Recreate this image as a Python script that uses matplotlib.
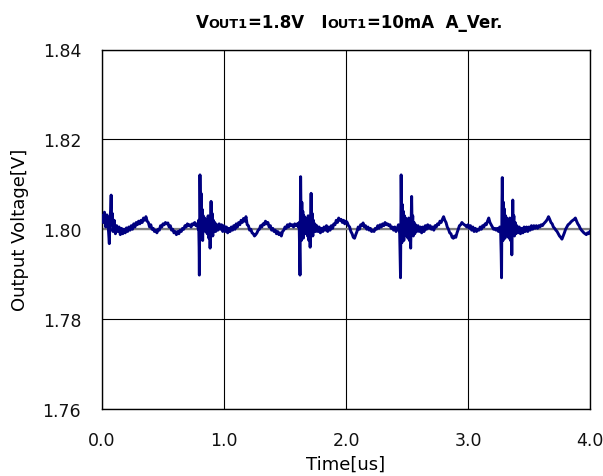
import matplotlib
matplotlib.use("Agg")
import matplotlib.pyplot as plt

plt.rcParams["font.family"] = ["DejaVu Sans"]

# quiet stretch + first switching burst (t in us, v in V)
t_seg1 = [0.00, 0.01, 0.02, 0.03, 0.04, 0.05, 0.06, 0.065, 0.07, 0.075, 0.08, 0.085, 0.09,
          0.10, 0.11, 0.12, 0.13, 0.14, 0.15, 0.16, 0.17, 0.18, 0.19, 0.20, 0.21, 0.22, 0.23,
          0.24, 0.25, 0.26, 0.27, 0.28, 0.29, 0.30, 0.31, 0.32, 0.33, 0.34, 0.35, 0.36, 0.37,
          0.38, 0.39, 0.40, 0.41, 0.42, 0.43, 0.44, 0.45, 0.46, 0.47, 0.48, 0.49, 0.50, 0.51,
          0.52, 0.53, 0.54, 0.55, 0.56, 0.57, 0.58, 0.59, 0.60, 0.61, 0.62, 0.63, 0.64, 0.65,
          0.66, 0.67, 0.68, 0.69, 0.70, 0.71, 0.72, 0.73, 0.74, 0.75, 0.76, 0.77, 0.78, 0.79,
          0.792, 0.796, 0.798, 0.801, 0.803, 0.806, 0.809, 0.812, 0.816, 0.820, 0.825, 0.830,
          0.836, 0.842, 0.848, 0.855, 0.862, 0.870, 0.876, 0.882, 0.886, 0.890, 0.894, 0.898,
          0.903, 0.908, 0.913, 0.918, 0.925, 0.932, 0.94, 0.95, 0.96, 0.97, 0.98, 0.99, 1.00]
v_seg1 = [1.8030, 1.8015, 1.8038, 1.8005, 1.8032, 1.8010, 1.7968, 1.8020, 1.8040, 1.8076, 1.8010,
          1.8035, 1.7995, 1.8020, 1.7990, 1.8008, 1.7995, 1.8005, 1.7988, 1.8002, 1.7990, 1.8000,
          1.7992, 1.8003, 1.7995, 1.8005, 1.7998, 1.8008, 1.8000, 1.8012, 1.8005, 1.8015, 1.8010,
          1.8018, 1.8012, 1.8020, 1.8015, 1.8025, 1.8020, 1.8028, 1.8018, 1.8015, 1.8005, 1.8010,
          1.8000, 1.8002, 1.7995, 1.7998, 1.7992, 1.8000, 1.7998, 1.8008, 1.8005, 1.8012, 1.8010,
          1.8015, 1.8012, 1.8014, 1.8005, 1.8008, 1.7998, 1.8000, 1.7992, 1.7995, 1.7988, 1.7995,
          1.7990, 1.7998, 1.7995, 1.8002, 1.8000, 1.8008, 1.8005, 1.8012, 1.8008, 1.8010, 1.8005,
          1.8012, 1.8010, 1.8015, 1.8008, 1.8012, 1.8000,
          1.8020, 1.7960, 1.7898, 1.8040, 1.8121, 1.8060, 1.7985, 1.8080, 1.7990, 1.8045, 1.7975,
          1.8030, 1.8000, 1.8025, 1.7995, 1.8020, 1.7990, 1.8030, 1.7980, 1.8020, 1.7958, 1.8010,
          1.8062, 1.8000, 1.8035, 1.7985, 1.8020, 1.7995, 1.8015, 1.7995, 1.8010, 1.7998, 1.8012,
          1.8000, 1.8010, 1.7995, 1.8008]

# second burst
t_seg2 = [1.01, 1.02, 1.03, 1.04, 1.05, 1.06, 1.07, 1.08, 1.09, 1.10, 1.11, 1.12, 1.13, 1.14,
          1.15, 1.16, 1.17, 1.18, 1.19, 1.20, 1.21, 1.22, 1.23, 1.24, 1.25, 1.26, 1.27, 1.28,
          1.29, 1.30, 1.31, 1.32, 1.33, 1.34, 1.35, 1.36, 1.37, 1.38, 1.39, 1.40, 1.41, 1.42,
          1.43, 1.44, 1.45, 1.46, 1.47, 1.48, 1.49, 1.50, 1.51, 1.52, 1.53, 1.54, 1.55, 1.56,
          1.57, 1.58, 1.59, 1.60, 1.61,
          1.616, 1.620, 1.623, 1.626, 1.628, 1.631, 1.634, 1.638, 1.642, 1.646, 1.650, 1.655,
          1.660, 1.666, 1.672, 1.678, 1.684, 1.690, 1.696, 1.702, 1.706, 1.710, 1.714, 1.718,
          1.723, 1.728, 1.733, 1.738, 1.745, 1.752, 1.76, 1.77, 1.78, 1.79, 1.80, 1.81, 1.82,
          1.83, 1.84, 1.85, 1.86, 1.87, 1.88, 1.89, 1.90, 1.91, 1.92, 1.93, 1.94, 1.95, 1.96,
          1.97, 1.98, 1.99, 2.00]
v_seg2 = [1.7995, 1.8005, 1.7992, 1.8002, 1.7995, 1.8005, 1.7998, 1.8008, 1.8000, 1.8012, 1.8005,
          1.8015, 1.8010, 1.8020, 1.8015, 1.8024, 1.8018, 1.8028, 1.8010, 1.8008, 1.7998, 1.8000,
          1.7992, 1.7990, 1.7985, 1.7988, 1.7992, 1.7998, 1.8000, 1.8008, 1.8005, 1.8012, 1.8010,
          1.8018, 1.8012, 1.8015, 1.8005, 1.8008, 1.7998, 1.8002, 1.7995, 1.7998, 1.7990, 1.7995,
          1.7988, 1.7992, 1.7985, 1.7995, 1.7998, 1.8005, 1.8002, 1.8010, 1.8005, 1.8012, 1.8008,
          1.8010, 1.8005, 1.8012, 1.8008, 1.8012, 1.8005,
          1.8015, 1.7950, 1.7898, 1.8050, 1.8117, 1.8040, 1.7975, 1.8060, 1.7985, 1.8040, 1.7980,
          1.8030, 1.7995, 1.8025, 1.7990, 1.8020, 1.7985, 1.8030, 1.7975, 1.8020, 1.7960, 1.8020,
          1.8080, 1.8000, 1.8035, 1.7985, 1.8020, 1.7995, 1.8012, 1.7995, 1.8008, 1.7995, 1.8005,
          1.7992, 1.8002, 1.7995, 1.8005, 1.7998, 1.8008, 1.7995, 1.8005, 1.7998, 1.8008, 1.8002,
          1.8012, 1.8010, 1.8020, 1.8015, 1.8025, 1.8020, 1.8022, 1.8015, 1.8020, 1.8012, 1.8018]

# third burst
t_seg3 = [2.01, 2.02, 2.03, 2.04, 2.05, 2.06, 2.07, 2.08, 2.09, 2.10, 2.11, 2.12, 2.13, 2.14,
          2.15, 2.16, 2.17, 2.18, 2.19, 2.20, 2.21, 2.22, 2.23, 2.24, 2.25, 2.26, 2.27, 2.28,
          2.29, 2.30, 2.31, 2.32, 2.33, 2.34, 2.35, 2.36, 2.37, 2.38, 2.39, 2.40, 2.41, 2.42,
          2.43,
          2.440, 2.444, 2.447, 2.450, 2.452, 2.455, 2.458, 2.462, 2.466, 2.470, 2.474, 2.479,
          2.484, 2.490, 2.496, 2.502, 2.508, 2.514, 2.520, 2.525, 2.530, 2.534, 2.538, 2.542,
          2.547, 2.552, 2.558, 2.564, 2.57, 2.58, 2.59, 2.60, 2.61, 2.62, 2.63, 2.64, 2.65,
          2.66, 2.67, 2.68, 2.69, 2.70, 2.71, 2.72, 2.73, 2.74, 2.75, 2.76, 2.77, 2.78, 2.79,
          2.80, 2.81, 2.82, 2.83, 2.84, 2.85, 2.86, 2.87, 2.88, 2.89, 2.90, 2.91, 2.92, 2.93,
          2.94, 2.95, 2.96, 2.97, 2.98, 2.99, 3.00]
v_seg3 = [1.8015, 1.8008, 1.8005, 1.7995, 1.7990, 1.7982, 1.7980, 1.7988, 1.7995, 1.8005, 1.8000,
          1.8010, 1.8008, 1.8014, 1.8005, 1.8008, 1.8000, 1.8005, 1.7998, 1.8002, 1.7995, 1.7998,
          1.7995, 1.8002, 1.8000, 1.8008, 1.8002, 1.8010, 1.8005, 1.8012, 1.8008, 1.8015, 1.8010,
          1.8012, 1.8008, 1.8010, 1.8002, 1.8005, 1.7998, 1.8005, 1.7995, 1.8002, 1.8010,
          1.7990, 1.7940, 1.7892, 1.8050, 1.8121, 1.8040, 1.7970, 1.8055, 1.7980, 1.8040, 1.7975,
          1.8030, 1.7990, 1.8025, 1.7985, 1.8020, 1.7980, 1.8025, 1.7975, 1.8015, 1.7958, 1.8010,
          1.8073, 1.8000, 1.8030, 1.7985, 1.8015, 1.7990, 1.8010, 1.7995, 1.8008, 1.7995, 1.8005,
          1.7992, 1.8005, 1.7995, 1.8008, 1.8000, 1.8010, 1.8002, 1.8008, 1.8000, 1.8005, 1.7998,
          1.8008, 1.8005, 1.8012, 1.8010, 1.8018, 1.8015, 1.8022, 1.8028, 1.8020, 1.8015, 1.8005,
          1.8000, 1.7992, 1.7990, 1.7982, 1.7980, 1.7985, 1.7982, 1.7992, 1.8000, 1.8008, 1.8010,
          1.8015, 1.8012, 1.8010, 1.8008, 1.8005, 1.8010]

# fourth burst and tail
t_seg4 = [3.01, 3.02, 3.03, 3.04, 3.05, 3.06, 3.07, 3.08, 3.09, 3.10, 3.11, 3.12, 3.13, 3.14,
          3.15, 3.16, 3.17, 3.18, 3.19, 3.20, 3.21, 3.22, 3.23, 3.24, 3.25, 3.26,
          3.268, 3.272, 3.275, 3.278, 3.281, 3.284, 3.287, 3.291, 3.295, 3.299, 3.303, 3.308,
          3.313, 3.319, 3.325, 3.331, 3.337, 3.343, 3.349, 3.354, 3.359, 3.363, 3.367, 3.371,
          3.376, 3.381, 3.387, 3.393, 3.40, 3.41, 3.42, 3.43, 3.44, 3.45, 3.46, 3.47, 3.48,
          3.49, 3.50, 3.51, 3.52, 3.53, 3.54, 3.55, 3.56, 3.57, 3.58, 3.59, 3.60, 3.61, 3.62,
          3.63, 3.64, 3.65, 3.66, 3.67, 3.68, 3.69, 3.70, 3.71, 3.72, 3.73, 3.74, 3.75, 3.76,
          3.77, 3.78, 3.79, 3.80, 3.81, 3.82, 3.83, 3.84, 3.85, 3.86, 3.87, 3.88, 3.89, 3.90,
          3.91, 3.92, 3.93, 3.94, 3.95, 3.96, 3.97, 3.98, 3.99, 4.00]
v_seg4 = [1.8002, 1.8008, 1.7998, 1.8005, 1.7995, 1.8002, 1.7995, 1.8000, 1.7998, 1.8005, 1.8000,
          1.8008, 1.8005, 1.8012, 1.8010, 1.8018, 1.8025, 1.8015, 1.8010, 1.8005, 1.8000, 1.8002,
          1.7998, 1.8002, 1.7995, 1.8005,
          1.7990, 1.7945, 1.7892, 1.8045, 1.8115, 1.8050, 1.7975, 1.8060, 1.7985, 1.8045, 1.7980,
          1.8030, 1.7990, 1.8025, 1.7985, 1.8020, 1.7980, 1.8025, 1.7975, 1.8020, 1.7943, 1.8010,
          1.8065, 1.8005, 1.8030, 1.7985, 1.8015, 1.7990, 1.8008, 1.7992, 1.8005, 1.7990, 1.8002,
          1.7992, 1.8005, 1.7995, 1.8005, 1.7995, 1.8005, 1.7998, 1.8008, 1.8000, 1.8008, 1.8002,
          1.8008, 1.8002, 1.8008, 1.8005, 1.8010, 1.8008, 1.8012, 1.8015, 1.8018, 1.8022, 1.8028,
          1.8022, 1.8015, 1.8012, 1.8005, 1.8002, 1.7998, 1.7995, 1.7990, 1.7985, 1.7982, 1.7978,
          1.7985, 1.7992, 1.8000, 1.8005, 1.8010, 1.8012, 1.8015, 1.8018, 1.8020, 1.8022, 1.8025,
          1.8018, 1.8012, 1.8008, 1.8002, 1.7998, 1.7995, 1.7992, 1.7990, 1.7988, 1.7992, 1.7990,
          1.7995]

time_us = t_seg1 + t_seg2 + t_seg3 + t_seg4
vout = v_seg1 + v_seg2 + v_seg3 + v_seg4

x_ticks = [0.0, 1.0, 2.0, 3.0, 4.0]
y_ticks = [1.76, 1.78, 1.80, 1.82, 1.84]
v_target = 1.80

fig = plt.figure(figsize=(6.03, 4.77), dpi=100)
ax = fig.add_axes([102 / 603, 1 - 410 / 477, 488 / 603, 359.5 / 477])

ax.axhline(v_target, color="#808080", lw=1.6, zorder=2)
ax.plot(time_us, vout, color="#000080", lw=2.1, zorder=3)

ax.set_xlim(0, 4.0)
ax.set_ylim(1.76, 1.84)
ax.set_xticks(x_ticks)
ax.set_yticks(y_ticks)
ax.set_xticklabels([f"{x:.1f}" for x in x_ticks])
ax.set_yticklabels([f"{y:.2f}" for y in y_ticks])
ax.tick_params(length=0, labelsize=12.5, colors="#111111")
ax.tick_params(axis="y", pad=15)
ax.tick_params(axis="x", pad=16)
ax.grid(True, color="black", lw=0.8, zorder=1)
for s in ax.spines.values():
    s.set_color("black")
    s.set_linewidth(1.0)

ax.set_xlabel("Time[us]", fontsize=13)
ax.set_ylabel("Output Voltage[V]", fontsize=13)
ax.xaxis.set_label_coords(0.5, -0.128)
ax.yaxis.set_label_coords(-0.150, 0.5)

# title with small-caps style subscripts, laid out piece by piece
pieces = [("V", 12), ("OUT1", 9.3), ("=1.8V   I", 12), ("OUT1", 9.3), ("=10mA  A_Ver.", 12)]
fig.canvas.draw()
renderer = fig.canvas.get_renderer()
texts = [fig.text(0, 0, s, fontsize=fs, fontweight="bold") for s, fs in pieces]
widths = [t.get_window_extent(renderer).width for t in texts]
total = sum(widths)
x0 = 349 - total / 2
y_base = 1 - 27.7 / 477
for t, w in zip(texts, widths):
    t.set_position((x0 / 603, y_base))
    t.set_va("baseline")
    x0 += w

fig.savefig("out.png", dpi=100)
